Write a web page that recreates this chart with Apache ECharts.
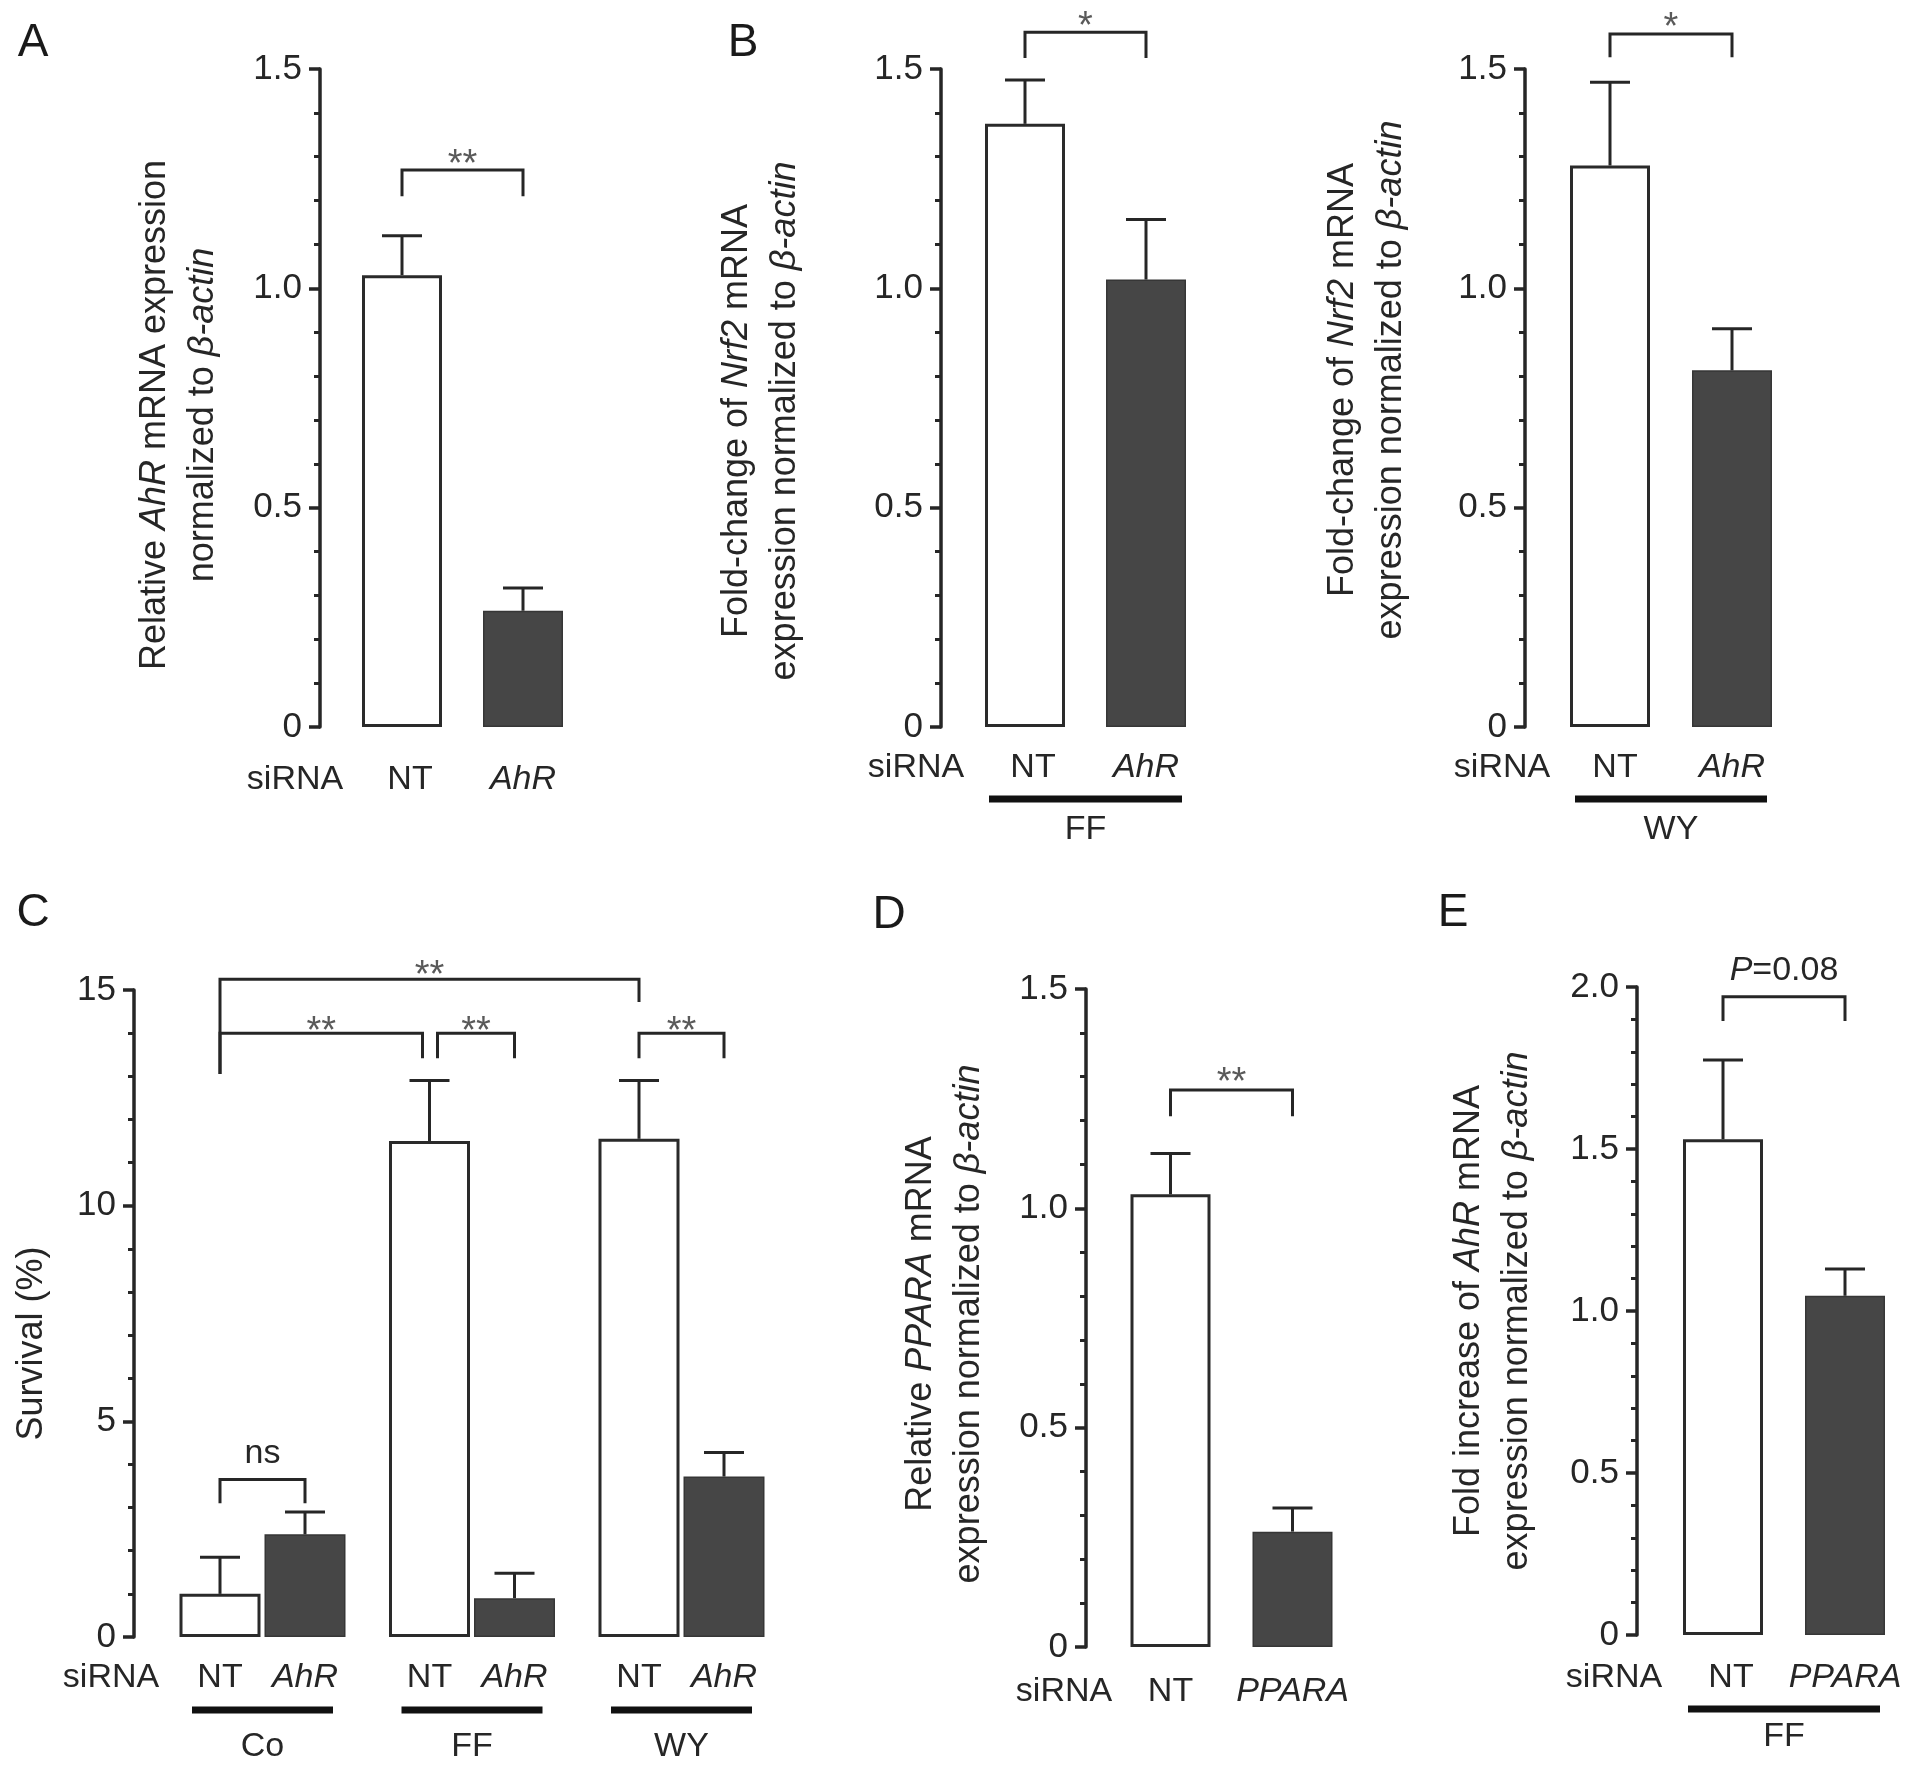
<!DOCTYPE html>
<html>
<head>
<meta charset="utf-8">
<script src="https://cdn.jsdelivr.net/npm/echarts@6/dist/echarts.min.js"></script>
<style>
  html, body { margin: 0; background: #fff; }
  #chart { width: 1913px; height: 1769px; }
</style>
</head>
<body>
<div id="chart"></div>
<script>
// ---- data ----
const catsAhR = ['NT', 'AhR'];
const catsPPARA = ['NT', 'PPARA'];
const groupsC = ['Co', 'FF', 'WY'];

const ticksRel = [0, 0.5, 1.0, 1.5];
const ticksSurv = [0, 5, 10, 15];
const ticksFold = [0, 0.5, 1.0, 1.5, 2.0];

const aMean = [1.03, 0.265];
const aErr = [0.09, 0.052];
const bFFMean = [1.375, 1.02];
const bFFErr = [0.10, 0.137];
const bWYMean = [1.28, 0.813];
const bWYErr = [0.19, 0.095];
const cNTMean = [1.0, 11.5, 11.55];
const cNTErr = [0.85, 1.4, 1.35];
const cAhRMean = [2.38, 0.9, 3.72];
const cAhRErr = [0.52, 0.58, 0.56];
const dMean = [1.032, 0.263];
const dErr = [0.093, 0.054];
const eMean = [1.53, 1.047];
const eErr = [0.245, 0.083];

// significance brackets: x1/x2 category, s1/s2 bar side in a group, heights in data units
const aBrackets = [{ x1: 0, x2: 1, top: 1.27, end1: 1.21, end2: 1.21, text: '**' }];
const bFFBrackets = [{ x1: 0, x2: 1, top: 1.584, end1: 1.525, end2: 1.525, text: '*' }];
const bWYBrackets = [{ x1: 0, x2: 1, top: 1.58, end1: 1.527, end2: 1.527, text: '*' }];
const cBrackets = [
  { x1: 0, s1: -1, x2: 2, s2: -1, top: 15.25, end1: 13.05, end2: 14.72, text: '**' },
  { x1: 0, s1: -1, x2: 1, s2: -1, top: 14.0, end1: 13.05, end2: 13.42, text: '**', dx2: -7 },
  { x1: 1, s1: -1, x2: 1, s2: 1, top: 14.0, end1: 13.42, end2: 13.42, text: '**', dx1: 8 },
  { x1: 2, s1: -1, x2: 2, s2: 1, top: 14.0, end1: 13.42, end2: 13.42, text: '**' },
  { x1: 0, s1: -1, x2: 0, s2: 1, top: 3.65, end1: 3.1, end2: 3.1, text: 'ns' }
];
const dBrackets = [{ x1: 0, x2: 1, top: 1.27, end1: 1.21, end2: 1.21, text: '**' }];
const eBrackets = [{ x1: 0, x2: 1, top: 1.97, end1: 1.895, end2: 1.895, text: '{i|P}=0.08' }];

// ---- styling ----
const FONT = "'Liberation Sans', Arial, Helvetica, sans-serif";
const INK = '#262626';
const DARK = '#464646';
const whiteBar = { color: '#ffffff', borderColor: '#2a2a2a', borderWidth: 3 };
const darkBar = { color: DARK, borderColor: '#363636', borderWidth: 1.5 };
const italic = { fontStyle: 'italic', fontFamily: FONT, color: INK };

const grids = [], xAxes = [], yAxes = [], series = [], graphics = [];

function tickFmt(dec) {
  return v => (v === 0 ? '0' : (dec ? v.toFixed(1) : String(v)));
}

function errSeries(xi, yi, means, errs, shift) {
  return {
    type: 'custom', xAxisIndex: xi, yAxisIndex: yi, silent: true, z: 3,
    encode: { x: 0, y: 1 },
    data: means.map((m, i) => [i, m, errs[i]]),
    renderItem(params, api) {
      const c = api.value(0), m = api.value(1), e = api.value(2);
      const p0 = api.coord([c, m]), p1 = api.coord([c, m + e]);
      const x = p0[0] + shift;
      return {
        type: 'group', children: [
          { type: 'line', shape: { x1: x, y1: p0[1], x2: x, y2: p1[1] }, style: { stroke: INK, lineWidth: 3 } },
          { type: 'line', shape: { x1: x - 20, y1: p1[1], x2: x + 20, y2: p1[1] }, style: { stroke: INK, lineWidth: 3 } }
        ]
      };
    }
  };
}

function bracketSeries(xi, yi, list, sideShift, dys) {
  return {
    type: 'custom', xAxisIndex: xi, yAxisIndex: yi, silent: true, z: 4, clip: false,
    encode: { x: [0, 1], y: [2, 3, 4] },
    data: list.map(b => [b.x1, b.x2, b.top, b.end1, b.end2]),
    renderItem(params, api) {
      const b = list[params.dataIndex];
      const xa = api.coord([api.value(0), 0])[0] + (b.s1 || 0) * sideShift + (b.dx1 || 0);
      const xb = api.coord([api.value(1), 0])[0] + (b.s2 || 0) * sideShift + (b.dx2 || 0);
      const yt = api.coord([0, api.value(2)])[1];
      const ya = api.coord([0, api.value(3)])[1];
      const yb = api.coord([0, api.value(4)])[1];
      const isStar = b.text.indexOf('*') === 0;
      return {
        type: 'group', children: [
          { type: 'polyline', shape: { points: [[xa, ya], [xa, yt], [xb, yt], [xb, yb]] },
            style: { stroke: INK, lineWidth: 3, fill: null } },
          { type: 'text', x: (xa + xb) / 2, y: yt + dys[params.dataIndex],
            style: { text: b.text, align: 'center', verticalAlign: 'middle',
              font: (isStar ? '38px ' : '34px ') + FONT, fill: isStar ? '#5a5a5a' : INK,
              rich: { i: { fontStyle: 'italic', font: 'italic 34px ' + FONT, fill: INK } } } }
        ]
      };
    }
  };
}

function addPanel(p) {
  const gi = grids.length;
  grids.push({ left: p.left, top: p.top, width: p.width, height: p.height,
    containLabel: false, outerBoundsMode: 'none' });
  const xi = xAxes.length;
  xAxes.push({
    type: 'category', gridIndex: gi, data: p.cats, position: 'bottom',
    axisLine: { show: false }, axisTick: { show: false }, splitLine: { show: false },
    axisLabel: {
      interval: 0, margin: p.labelMargin, fontFamily: FONT, fontSize: 34, color: INK,
      formatter: p.catFmt,
      rich: {
        n: { fontFamily: FONT, fontSize: 34, lineHeight: 34, color: INK, width: p.tokenW, align: 'center',
          padding: [0, 0, 0, p.ntShift || 0] },
        i: Object.assign({ fontSize: 34, lineHeight: 34, width: p.tokenW, align: 'center' }, italic)
      }
    }
  });
  if (p.groups) {
    xAxes.push({
      type: 'category', gridIndex: gi, data: p.groups, position: 'bottom',
      axisLine: { show: false }, axisTick: { show: false }, splitLine: { show: false },
      axisLabel: {
        interval: 0, margin: p.groupMargin, color: INK,
        formatter: v => '{line|}\n{g|' + v + '}',
        rich: {
          line: { width: p.lineW, height: 7, lineHeight: 7, backgroundColor: '#111' },
          g: { fontFamily: FONT, fontSize: 34, lineHeight: p.groupLH, color: INK }
        }
      }
    });
  }
  const t = p.ticks;
  yAxes.push({
    type: 'value', gridIndex: gi, min: t[0], max: t[t.length - 1], interval: t[1] - t[0],
    offset: p.left - p.axisX,
    axisLine: { show: true, onZero: false, lineStyle: { color: INK, width: 3.5 } },
    axisTick: { show: true, length: 11, lineStyle: { color: INK, width: 3.5 } },
    minorTick: { show: true, splitNumber: 5, length: 6, lineStyle: { color: INK, width: 3 } },
    splitLine: { show: false }, minorSplitLine: { show: false },
    axisLabel: { margin: 18, fontFamily: FONT, fontSize: 35, color: INK, padding: [12, 0, 0, 0],
      formatter: tickFmt(p.dec) },
    name: p.yName, nameLocation: 'middle', nameRotate: 90, nameGap: p.nameGap, nameMoveOverlap: false,
    nameTextStyle: {
      fontFamily: FONT, fontSize: 36, lineHeight: 48, color: INK, padding: p.namePad,
      rich: { i: Object.assign({ fontSize: 36, lineHeight: 48 }, italic) }
    }
  });
  graphics.push({ type: 'text', x: p.siX, y: p.siY,
    style: { text: 'siRNA', font: '34px ' + FONT, fill: INK, align: 'center', verticalAlign: 'middle' } });
  return { gi, xi };
}

const catFmt2 = v => (v === 'NT' ? '{n|NT}' : '{i|' + v + '}');

// Panel A
let r = addPanel({ cats: catsAhR, catFmt: catFmt2, ntShift: 16, left: 341.5, top: 69, width: 242, height: 658, axisX: 320,
  ticks: ticksRel, dec: true, labelMargin: 36, siX: 295, siY: 780,
  yName: 'Relative {i|AhR} mRNA expression\nnormalized to {i|β-actin}', nameGap: 93, namePad: [0, 34, 0, 0] });
series.push({ type: 'bar', xAxisIndex: r.xi, yAxisIndex: r.gi, barWidth: 80, silent: true,
  data: aMean.map((v, i) => ({ value: v, itemStyle: i === 0 ? whiteBar : darkBar })) });
series.push(errSeries(r.xi, r.gi, aMean, aErr, 0));
series.push(bracketSeries(r.xi, r.gi, aBrackets, 0, [-4]));

// Panel B (FF)
r = addPanel({ cats: catsAhR, catFmt: catFmt2, ntShift: 16, left: 964.5, top: 69, width: 242, height: 658, axisX: 941,
  ticks: ticksRel, dec: true, labelMargin: 24, siX: 916, siY: 768,
  groups: ['FF'], groupMargin: 68.5, groupLH: 55, lineW: 193,
  yName: 'Fold-change of {i|Nrf2} mRNA\nexpression normalized to {i|β-actin}', nameGap: 132, namePad: [0, 46, 0, 0] });
series.push({ type: 'bar', xAxisIndex: r.xi, yAxisIndex: r.gi, barWidth: 80, silent: true,
  data: bFFMean.map((v, i) => ({ value: v, itemStyle: i === 0 ? whiteBar : darkBar })) });
series.push(errSeries(r.xi, r.gi, bFFMean, bFFErr, 0));
series.push(bracketSeries(r.xi, r.gi, bFFBrackets, 0, [-5]));

// Panel B (WY)
r = addPanel({ cats: catsAhR, catFmt: catFmt2, ntShift: 10, left: 1549, top: 69, width: 244, height: 658, axisX: 1525,
  ticks: ticksRel, dec: true, labelMargin: 24, siX: 1502, siY: 768,
  groups: ['WY'], groupMargin: 68.5, groupLH: 55, lineW: 192,
  yName: 'Fold-change of {i|Nrf2} mRNA\nexpression normalized to {i|β-actin}', nameGap: 110, namePad: [0, 0, 0, 36] });
series.push({ type: 'bar', xAxisIndex: r.xi, yAxisIndex: r.gi, barWidth: 80, silent: true,
  data: bWYMean.map((v, i) => ({ value: v, itemStyle: i === 0 ? whiteBar : darkBar })) });
series.push(errSeries(r.xi, r.gi, bWYMean, bWYErr, 0));
series.push(bracketSeries(r.xi, r.gi, bWYBrackets, 0, [-5]));

// Panel C
const cBarW = 81, cGap = 4;
const cShift = (cBarW + cGap) / 2;
r = addPanel({ cats: groupsC, catFmt: () => '{n|NT}{i|AhR}', tokenW: cBarW + cGap,
  left: 157.75, top: 990, width: 628.5, height: 647, axisX: 134,
  ticks: ticksSurv, dec: false, labelMargin: 24, siX: 111, siY: 1678,
  groups: groupsC, groupMargin: 69.5, groupLH: 67, lineW: 141,
  yName: 'Survival (%)', nameGap: 78, namePad: [0, 60, 0, 0] });
series.push({ type: 'bar', name: 'NT', xAxisIndex: r.xi, yAxisIndex: r.gi, barWidth: cBarW, barGap: (cGap / cBarW * 100) + '%',
  silent: true, itemStyle: whiteBar, data: cNTMean });
series.push({ type: 'bar', name: 'AhR', xAxisIndex: r.xi, yAxisIndex: r.gi, barWidth: cBarW, barGap: (cGap / cBarW * 100) + '%',
  silent: true, itemStyle: darkBar, data: cAhRMean });
series.push(errSeries(r.xi, r.gi, cNTMean, cNTErr, -cShift));
series.push(errSeries(r.xi, r.gi, cAhRMean, cAhRErr, cShift));
series.push(bracketSeries(r.xi, r.gi, cBrackets, cShift, [-3, -1, -1, -1, -26]));

// Panel D
r = addPanel({ cats: catsPPARA, catFmt: catFmt2, left: 1109.5, top: 989, width: 244, height: 658, axisX: 1086,
  ticks: ticksRel, dec: true, labelMargin: 28, siX: 1064, siY: 1692,
  yName: 'Relative {i|PPARA} mRNA\nexpression normalized to {i|β-actin}', nameGap: 93, namePad: [0, 12, 0, 0] });
series.push({ type: 'bar', xAxisIndex: r.xi, yAxisIndex: r.gi, barWidth: 80, silent: true,
  data: dMean.map((v, i) => ({ value: v, itemStyle: i === 0 ? whiteBar : darkBar })) });
series.push(errSeries(r.xi, r.gi, dMean, dErr, 0));
series.push(bracketSeries(r.xi, r.gi, dBrackets, 0, [-6]));

// Panel E
r = addPanel({ cats: catsPPARA, catFmt: catFmt2, ntShift: 16, left: 1662, top: 987, width: 244, height: 648, axisX: 1637,
  ticks: ticksFold, dec: true, labelMargin: 26, siX: 1614, siY: 1678,
  groups: ['FF'], groupMargin: 70.5, groupLH: 49, lineW: 192,
  yName: 'Fold increase of {i|AhR} mRNA\nexpression normalized to {i|β-actin}', nameGap: 96, namePad: [0, 0, 0, 0] });
series.push({ type: 'bar', xAxisIndex: r.xi, yAxisIndex: r.gi, barWidth: 80, silent: true,
  data: eMean.map((v, i) => ({ value: v, itemStyle: i === 0 ? whiteBar : darkBar })) });
series.push(errSeries(r.xi, r.gi, eMean, eErr, 0));
series.push(bracketSeries(r.xi, r.gi, eBrackets, 0, [-26]));

// panel letters
[['A', 33, 43], ['B', 743, 43], ['C', 33, 913], ['D', 889, 915], ['E', 1453, 913]].forEach(l => {
  graphics.push({ type: 'text', x: l[1], y: l[2],
    style: { text: l[0], font: '46px ' + FONT, fill: '#1a1a1a', align: 'center', verticalAlign: 'middle' } });
});

const chart = echarts.init(document.getElementById('chart'), null, { renderer: 'canvas' });
chart.setOption({
  backgroundColor: '#ffffff',
  animation: false,
  grid: grids,
  xAxis: xAxes,
  yAxis: yAxes,
  series: series,
  graphic: graphics
});
</script>
</body>
</html>
